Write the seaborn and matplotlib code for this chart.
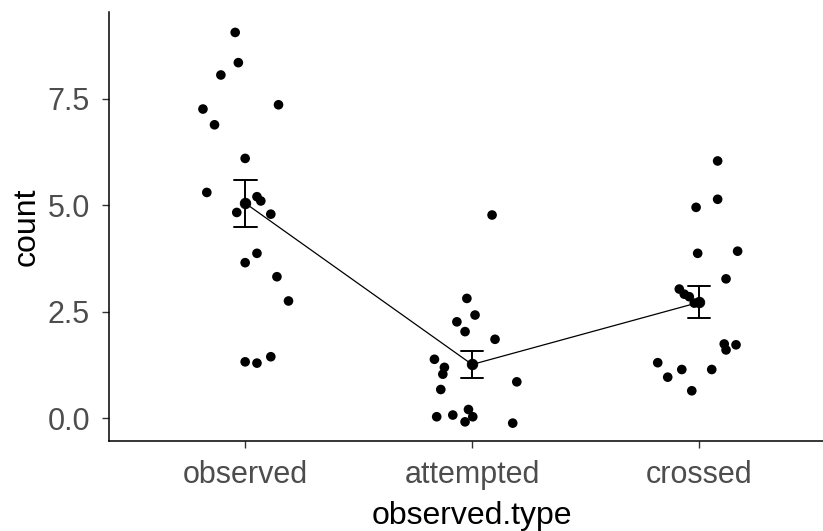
import matplotlib
matplotlib.use("Agg")
import matplotlib.pyplot as plt
import seaborn as sns
import pandas as pd

categories = ["observed", "attempted", "crossed"]

# counts as drawn (jittered in the original) and the horizontal jitter of each dot
observed_count = [9.06, 8.35, 8.06, 7.26, 7.36, 6.89, 6.10, 5.30, 5.20, 5.10,
                  4.83, 4.79, 3.87, 3.65, 3.32, 2.75, 1.44, 1.32, 1.29]
observed_jit = [-0.044, -0.030, -0.107, -0.186, 0.147, -0.135, 0.000, -0.169, 0.052, 0.069,
                -0.037, 0.113, 0.052, 0.000, 0.140, 0.191, 0.113, 0.000, 0.052]

attempted_count = [2.81, 2.42, 2.26, 2.03, 1.85, 1.38, 1.19, 1.03, 0.67, 0.85,
                   0.03, 0.07, 0.20, 0.03, -0.09, -0.12, 4.77]
attempted_jit = [-0.023, 0.013, -0.067, -0.031, 0.101, -0.166, -0.122, -0.129, -0.138, 0.197,
                 -0.156, -0.085, -0.016, 0.003, -0.031, 0.179, 0.088]

crossed_count = [6.04, 5.14, 4.95, 3.87, 3.92, 3.27, 3.03, 2.91, 2.85, 2.70,
                 1.74, 1.72, 1.60, 1.30, 0.96, 1.14, 1.14, 0.64]
crossed_jit = [0.082, 0.082, -0.013, -0.006, 0.170, 0.119, -0.087, -0.065, -0.043, -0.021,
               0.111, 0.163, 0.119, -0.182, -0.138, -0.076, 0.056, -0.032]

rows = []
for i, (cnt, jit) in enumerate([(observed_count, observed_jit),
                                (attempted_count, attempted_jit),
                                (crossed_count, crossed_jit)]):
    for c, j in zip(cnt, jit):
        rows.append({"pos": i, "xj": i + j, "count": c})
df = pd.DataFrame(rows)

sns.set_theme(style="ticks")
plt.rcParams["font.family"] = ["Liberation Sans", "DejaVu Sans"]

fig = plt.figure(figsize=(8.23, 5.31), dpi=100)
ax = fig.add_axes([109 / 823, 1 - 441 / 531, 1 - 109 / 823, (441 - 12) / 531])

sns.scatterplot(data=df, x="xj", y="count", color="black", s=48,
                edgecolor="none", ax=ax, zorder=3)
sns.pointplot(data=df, x="pos", y="count", native_scale=True, errorbar="se",
              capsize=0.1, color="black", markers="o", markersize=7.5,
              linewidth=0.9, err_kws={"linewidth": 1.4}, ax=ax, zorder=4)

ax.set_xlim(-0.6, (823 - 245) / 227)
ax.set_ylim(-0.54, 9.54)
ax.set_xticks([0, 1, 2], categories)
ax.set_yticks([0, 2.5, 5, 7.5], ["0.0", "2.5", "5.0", "7.5"])
ax.set_xlabel("observed.type", fontsize=23, color="black")
ax.set_ylabel("count", fontsize=23, color="black")
ax.xaxis.set_label_coords((472 - 109) / (823 - 109), -0.141)
ax.yaxis.set_label_coords(-0.095, 0.5)
ax.tick_params(length=5, width=1, color="#333333", labelsize=22,
               labelcolor="#4d4d4d", pad=8.6)
for s in ["left", "bottom"]:
    ax.spines[s].set_linewidth(1.1)
    ax.spines[s].set_color("black")
sns.despine(ax=ax)

fig.savefig("out.png", dpi=100)
